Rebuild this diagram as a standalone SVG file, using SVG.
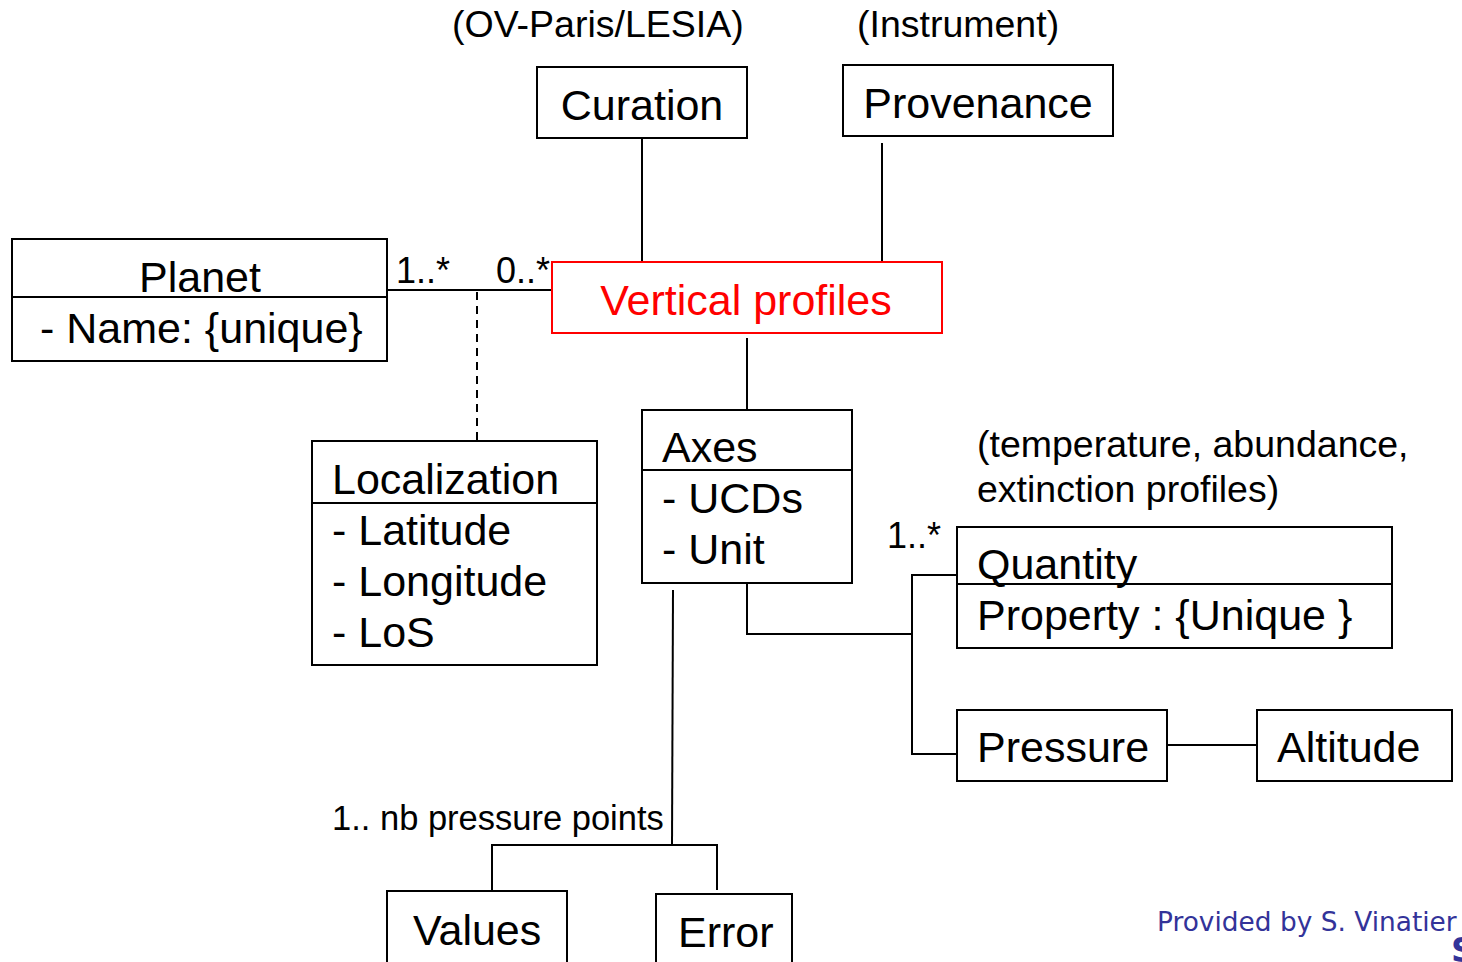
<svg xmlns="http://www.w3.org/2000/svg" width="1462" height="962" viewBox="0 0 1462 962">
<style>
.box{fill:#fff;stroke:#000;stroke-width:2}
.ln{fill:none;stroke:#000;stroke-width:2}
.t{font-family:"Liberation Sans",Arial,sans-serif;font-size:43px;fill:#000}
.s{font-family:"Liberation Sans",Arial,sans-serif;font-size:37.5px;fill:#000}
</style>
<rect width="1462" height="962" fill="#fff"/>
<g id="connectors">
<line class="ln" x1="642" y1="138" x2="642" y2="262"/>
<line class="ln" x1="882" y1="143" x2="882" y2="262"/>
<line class="ln" x1="387" y1="290" x2="552" y2="290"/>
<line class="ln" x1="477" y1="292" x2="477" y2="440" stroke-dasharray="8,6"/>
<line class="ln" x1="747" y1="338" x2="747" y2="410"/>
<polyline class="ln" points="747,583 747,634 912,634"/>
<polyline class="ln" points="957,575 912,575 912,754 957,754"/>
<line class="ln" x1="1167" y1="745" x2="1257" y2="745"/>
<line class="ln" x1="673" y1="590" x2="672" y2="845"/>
<polyline class="ln" points="492,890 492,845 717,845 717,890"/>
</g>
<g id="labels">
<text class="s" x="452" y="37">(OV-Paris/LESIA)</text>
<text class="s" x="857" y="37">(Instrument)</text>
<text class="s" x="396" y="283" style="font-size:36px">1..*</text>
<text class="s" x="496" y="283" style="font-size:36px">0..*</text>
<text class="s" x="977" y="457">(temperature, abundance,</text>
<text class="s" x="977" y="502">extinction profiles)</text>
<text class="s" x="887" y="548" style="font-size:36px">1..*</text>
<text class="s" x="332" y="830" style="font-size:34.5px">1.. nb pressure points</text>
</g>
<g id="curation">
<rect class="box" x="537" y="67" width="210" height="71"/>
<text class="t" x="642" y="120" text-anchor="middle">Curation</text>
</g>
<g id="provenance">
<rect class="box" x="843" y="65" width="270" height="71"/>
<text class="t" x="978" y="118" text-anchor="middle">Provenance</text>
</g>
<g id="planet">
<rect class="box" x="12" y="239" width="375" height="122"/>
<line class="ln" x1="12" y1="297" x2="387" y2="297"/>
<text class="t" x="200" y="292" text-anchor="middle">Planet</text>
<text class="t" x="40" y="343">- Name: {unique}</text>
</g>
<g id="vertical-profiles">
<rect x="552" y="262" width="390" height="71" fill="#fff" stroke="#ff0000" stroke-width="2"/>
<text class="t" x="746" y="315" text-anchor="middle" style="fill:#ff0000">Vertical profiles</text>
</g>
<g id="localization">
<rect class="box" x="312" y="441" width="285" height="224"/>
<line class="ln" x1="312" y1="503" x2="597" y2="503"/>
<text class="t" x="332" y="494">Localization</text>
<text class="t" x="332" y="545">- Latitude</text>
<text class="t" x="332" y="596">- Longitude</text>
<text class="t" x="332" y="647">- LoS</text>
</g>
<g id="axes">
<rect class="box" x="642" y="410" width="210" height="173"/>
<line class="ln" x1="642" y1="470" x2="852" y2="470"/>
<text class="t" x="662" y="462">Axes</text>
<text class="t" x="662" y="513">- UCDs</text>
<text class="t" x="662" y="564">- Unit</text>
</g>
<g id="quantity">
<rect class="box" x="957" y="527" width="435" height="121"/>
<line class="ln" x1="957" y1="584" x2="1392" y2="584"/>
<text class="t" x="977" y="579">Quantity</text>
<text class="t" x="977" y="630">Property : {Unique }</text>
</g>
<g id="pressure">
<rect class="box" x="957" y="710" width="210" height="71"/>
<text class="t" x="977" y="762">Pressure</text>
</g>
<g id="altitude">
<rect class="box" x="1257" y="710" width="195" height="71"/>
<text class="t" x="1277" y="762">Altitude</text>
</g>
<g id="values">
<rect class="box" x="387" y="891" width="180" height="80"/>
<text class="t" x="413" y="945">Values</text>
</g>
<g id="error">
<rect class="box" x="656" y="894" width="136" height="80"/>
<text class="t" x="678" y="947">Error</text>
</g>
<g id="credit">
<text x="1157" y="931" font-family="DejaVu Sans, sans-serif" font-size="26.4" fill="#333399">Provided by S. Vinatier</text>
<text x="1451" y="962" font-family="DejaVu Sans, sans-serif" font-size="34" font-weight="bold" fill="#333399">S</text>
</g>
</svg>
